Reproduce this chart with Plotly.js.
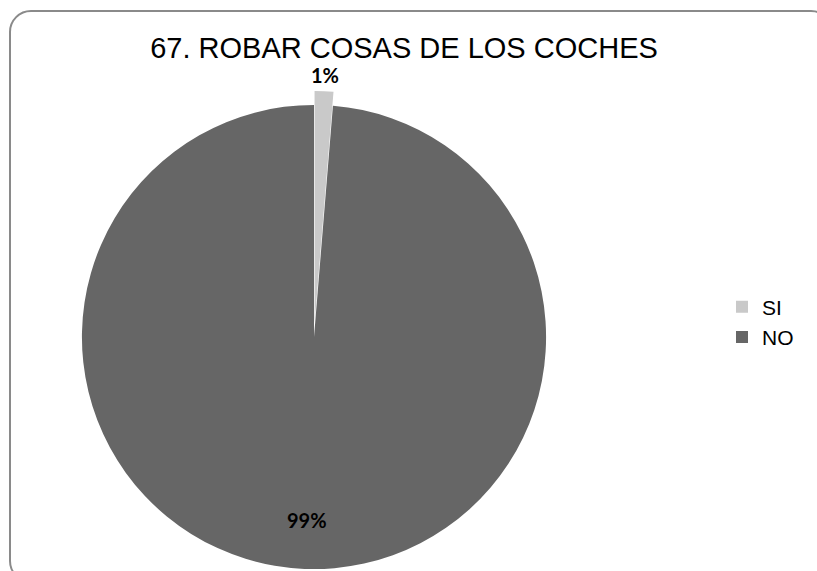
<!DOCTYPE html>
<html>
<head>
<meta charset="utf-8">
<script src="https://cdn.plot.ly/plotly-3.0.1.min.js"></script>
<style>
  html, body { margin: 0; padding: 0; overflow: hidden; background: #ffffff; width: 817px; height: 571px; }
  #chart { position: absolute; left: 0; top: 0; width: 830px; height: 600px; }
  #frame { position: absolute; left: 9px; top: 10px; width: 820px; height: 569px;
           border: 2px solid #8a8a8a; border-radius: 22px; pointer-events: none; }
</style>
</head>
<body>
<div id="chart"></div>
<div id="frame"></div>
<script>
const categories = ["SI", "NO"];
const values = [1.3, 98.7];
const colors = ["#c9c9c9", "#666666"];
const pulls = [0.06, 0];
const chartTitle = "67. ROBAR COSAS DE LOS COCHES";

// label placement (fraction of pie radius from centre)
const labelRadius = [1.13, 0.79];

const W = 830, H = 600;
const dom = { x0: 68, x1: 560, y0: 91, y1: 583 }; // pixel box of the pie domain
const cx = (dom.x0 + dom.x1) / 2, cy = (dom.y0 + dom.y1) / 2;
const maxPull = Math.max.apply(null, pulls);
const r = Math.min(dom.x1 - dom.x0, dom.y1 - dom.y0) / (2 * (1 + maxPull));

const total = values.reduce((a, b) => a + b, 0);
const labelFont = { family: "Lato, 'Liberation Sans', Arial, sans-serif", size: 20, weight: "bold", color: "#000000" };

const annotations = [];
let cum = 0;
values.forEach((v, i) => {
  const mid = (cum + v / 2) / total * 2 * Math.PI; // clockwise from 12 o'clock
  cum += v;
  const rr = r * labelRadius[i];
  const px = cx + rr * Math.sin(mid);
  const py = cy - rr * Math.cos(mid);
  annotations.push({
    text: Math.round(v / total * 100) + "%",
    x: px / W, y: 1 - py / H, xref: "paper", yref: "paper",
    xanchor: "center", yanchor: "middle", showarrow: false,
    font: labelFont
  });
});

const trace = {
  type: "pie",
  labels: categories,
  values: values,
  sort: false,
  direction: "clockwise",
  rotation: 0,
  pull: pulls,
  marker: { colors: colors, line: { width: 0 } },
  textinfo: "none",
  textposition: "none",
  hoverinfo: "label+percent",
  domain: { x: [dom.x0 / W, dom.x1 / W], y: [(H - dom.y1) / H, (H - dom.y0) / H] }
};

const layout = {
  width: W,
  height: H,
  margin: { l: 0, r: 0, t: 0, b: 0 },
  paper_bgcolor: "rgba(0,0,0,0)",
  plot_bgcolor: "rgba(0,0,0,0)",
  font: { family: "'Liberation Sans', Arial, sans-serif", color: "#000000" },
  title: {
    text: chartTitle,
    font: { family: "'Liberation Sans', Arial, sans-serif", size: 29, color: "#000000" },
    x: 404 / W, xanchor: "center", xref: "container",
    y: 1 - 48 / H, yanchor: "middle", yref: "container"
  },
  annotations: annotations,
  showlegend: true,
  legend: {
    x: 722 / W, xanchor: "left",
    y: 1 - 322 / H, yanchor: "middle",
    font: { family: "'Liberation Sans', Arial, sans-serif", size: 21, color: "#000000" },
    bgcolor: "rgba(0,0,0,0)",
    traceorder: "normal"
  }
};

Plotly.newPlot("chart", [trace], layout, { displayModeBar: false, staticPlot: true });
</script>
</body>
</html>
